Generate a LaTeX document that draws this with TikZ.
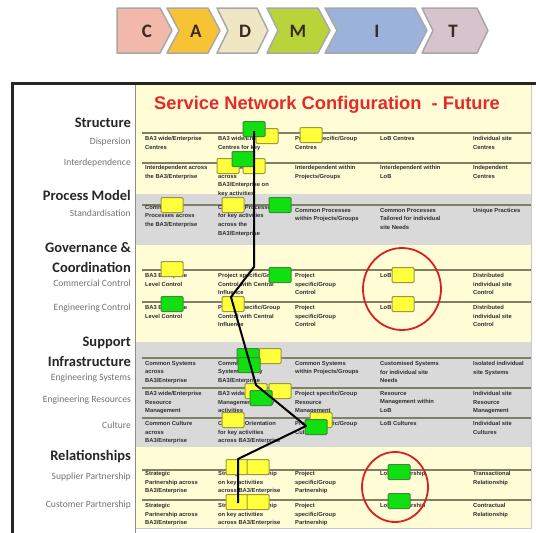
\documentclass[tikz,border=0pt]{standalone}
\usepackage{fontspec}
\setmainfont{Liberation Sans}
\newfontfamily\carl{Carlito}
\usetikzlibrary{shapes.geometric}
\definecolor{cC}{HTML}{F2B9AA}
\definecolor{cA}{HTML}{F8C235}
\definecolor{cD}{HTML}{EFE7C3}
\definecolor{cM}{HTML}{B8D43A}
\definecolor{cI}{HTML}{9BB2DB}
\definecolor{cT}{HTML}{D7C3CB}
\definecolor{chevgray}{HTML}{A8A8A8}
\definecolor{letterc}{HTML}{3B2A22}
\definecolor{yfill}{HTML}{FFFCD6}
\definecolor{grayband}{HTML}{D9D9D9}
\definecolor{linecol}{HTML}{7F7F62}
\definecolor{titlered}{HTML}{E52A2A}
\definecolor{ringred}{HTML}{D82020}
\definecolor{boxy}{HTML}{FFFF3C}
\definecolor{boxyb}{HTML}{9C9A3A}
\definecolor{boxg}{HTML}{10E010}
\definecolor{boxgb}{HTML}{3A8A3A}
\definecolor{subgray}{HTML}{747474}
\definecolor{celltext}{HTML}{2E2E2E}
\definecolor{edgegray}{HTML}{C8C8C8}
\tikzset{
  chev/.style={draw=chevgray, line width=1.5pt, line join=round},
  chevlbl/.style={font=\carl\bfseries\fontsize{19}{19}\selectfont, text=letterc, inner sep=0pt},
  ybox/.style={draw=boxyb, fill=boxy, line width=1pt, rounded corners=1.2pt, minimum width=22pt, minimum height=15pt, inner sep=0pt},
  gbox/.style={draw=boxgb, fill=boxg, line width=1pt, rounded corners=1.2pt, minimum width=22pt, minimum height=15pt, inner sep=0pt},
  cell/.style={font=\bfseries\fontsize{5.8}{8.7}\selectfont, text=celltext, anchor=north west, align=left, inner sep=0pt},
  mainlbl/.style={font=\carl\bfseries\fontsize{14.5}{15}\selectfont, text=black!85, anchor=east, inner sep=0pt},
  sublbl/.style={font=\carl\fontsize{9.6}{10}\selectfont, text=subgray, anchor=east, inner sep=0pt},
  rowline/.style={draw=linecol, line width=1.3pt},
  redring/.style={ellipse, draw=ringred, line width=1.8pt, inner sep=0pt},
  pathline/.style={draw=black, line width=2pt, line join=round},
}
\begin{document}
\begin{tikzpicture}[x=1pt,y=-1pt]
\useasboundingbox (0,0) rectangle (536,533);
\fill[white] (0,0) rectangle (536,533);
% chevron bar
\draw[chev, fill=cC] (117,8) -- (160,8) -- (172,30.5) -- (160,53) -- (117,53) -- cycle;
\draw[chev, fill=cA] (167,8) -- (208,8) -- (220,30.5) -- (208,53) -- (167,53) -- (179,30.5) -- cycle;
\draw[chev, fill=cD] (217,8) -- (257,8) -- (268,30.5) -- (257,53) -- (217,53) -- (228,30.5) -- cycle;
\draw[chev, fill=cM] (267,8) -- (318,8) -- (330,30.5) -- (318,53) -- (267,53) -- (278,30.5) -- cycle;
\draw[chev, fill=cI] (325,8) -- (415,8) -- (427,30.5) -- (415,53) -- (325,53) -- (337,30.5) -- cycle;
\draw[chev, fill=cT] (422,8) -- (477,8) -- (488,30.5) -- (477,53) -- (422,53) -- (433,30.5) -- cycle;
\node[chevlbl] (lC) at (147,31) {C};
\node[chevlbl] (lA) at (196,31) {A};
\node[chevlbl] (lD) at (245,31) {D};
\node[chevlbl] (lM) at (298,31) {M};
\node[chevlbl] (lI) at (377,31) {I};
\node[chevlbl] (lT) at (453,31) {T};
% table background
\fill[yfill] (135,83) rectangle (531,528);
\fill[grayband] (135,194) rectangle (531,245);
\fill[grayband] (135,342) rectangle (531,447);
\draw[edgegray, line width=1pt] (531,84) -- (531,528) -- (135,528);
\draw[edgegray!70!black, line width=0.8pt] (135,84) -- (135,533);
\draw[black!85, line width=3pt] (12,533) -- (12,83) -- (536,83);
% title
\node[font=\bfseries\fontsize{18.3}{19}\selectfont, text=titlered, inner sep=0pt] (title) at (327,105) {Service Network Configuration \ - Future};
% row lines
\foreach \yy in {133,163,205,270,302,358,388,418,470,500}
  \draw[rowline] (142,\yy) -- (531,\yy);
% left labels
\node[mainlbl] (hStr) at (131,123) {Structure};
\node[sublbl] (sDisp) at (131,142) {Dispersion};
\node[sublbl] (sInter) at (131,163) {Interdependence};
\node[mainlbl] (hPro) at (131,195) {Process Model};
\node[sublbl] (sStd) at (131,213) {Standardisation};
\node[mainlbl] (hGov) at (131,248) {Governance \&};
\node[mainlbl] (hCoo) at (131,267) {Coordination};
\node[sublbl] (sCom) at (131,283) {Commercial Control};
\node[sublbl] (sEng) at (131,308) {Engineering Control};
\node[mainlbl] (hSup) at (131,343) {Support};
\node[mainlbl] (hInf) at (131,362) {Infrastructure};
\node[sublbl] (sSys) at (131,378) {Engineering Systems};
\node[sublbl] (sRes) at (131,400) {Engineering Resources};
\node[sublbl] (sCul) at (131,425) {Culture};
\node[mainlbl] (hRel) at (131,457) {Relationships};
\node[sublbl] (sSupP) at (131,477) {Supplier Partnership};
\node[sublbl] (sCusP) at (131,505) {Customer Partnership};
% cell texts
% Dispersion
\node[cell] (d1) at (145,136) {BA3 wide/Enterprise\\Centres};
\node[cell] (d2) at (218,136) {BA3 wide/Enterprise\\Centres for key};
\node[cell] (d3) at (295,136) {Project specific/Group\\Centres};
\node[cell] (d4) at (380,136) {LoB Centres};
\node[cell] (d5) at (473,136) {Individual site\\Centres};
% Interdependence
\node[cell] (i1) at (145,165) {Interdependent across\\the BA3/Enterprise};
\node[cell] (i2) at (218,165) {Interdependent\\across\\BA3/Enterprise on\\key activities};
\node[cell] (i3) at (295,165) {Interdependent within\\Projects/Groups};
\node[cell] (i4) at (380,165) {Interdependent within\\LoB};
\node[cell] (i5) at (473,165) {Independent\\Centres};
% Standardisation
\node[cell] (s1) at (145,205) {Common\\Processes across\\the BA3/Enterprise};
\node[cell] (s2) at (218,205) {Common Processes\\for key activities\\across the\\BA3/Enterprise};
\node[cell] (s3) at (295,208) {Common Processes\\within Projects/Groups};
\node[cell] (s4) at (380,208) {Common Processes\\Tailored for individual\\site Needs};
\node[cell] (s5) at (473,208) {Unique Practices};
% Commercial control
\node[cell] (cc1) at (145,273) {BA3 Enterprise\\Level Control};
\node[cell] (cc2) at (218,273) {Project specific/Group\\Control with Central\\Influence};
\node[cell] (cc3) at (295,273) {Project\\specific/Group\\Control};
\node[cell] (cc4) at (380,273) {LoB};
\node[cell] (cc5) at (473,273) {Distributed\\individual site\\Control};
% Engineering control
\node[cell] (ec1) at (145,305) {BA3 Enterprise\\Level Control};
\node[cell] (ec2) at (218,305) {Project specific/Group\\Control with Central\\Influence};
\node[cell] (ec3) at (295,305) {Project\\specific/Group\\Control};
\node[cell] (ec4) at (380,305) {LoB};
\node[cell] (ec5) at (473,305) {Distributed\\individual site\\Control};
% Engineering systems
\node[cell] (es1) at (145,361) {Common Systems\\across\\BA3/Enterprise};
\node[cell] (es2) at (218,361) {Common\\Systems for key\\BA3/Enterprise};
\node[cell] (es3) at (295,361) {Common Systems\\within Projects/Groups};
\node[cell] (es4) at (380,361) {Customised Systems\\for individual site\\Needs};
\node[cell] (es5) at (473,361) {Isolated individual\\site Systems};
% Engineering resources
\node[cell] (er1) at (145,391) {BA3 wide/Enterprise\\Resource\\Management};
\node[cell] (er2) at (218,391) {BA3 wide/Enterprise\\Management for key\\activities};
\node[cell] (er3) at (295,391) {Project specific/Group\\Resource\\Management};
\node[cell] (er4) at (380,391) {Resource\\Management within\\LoB};
\node[cell] (er5) at (473,391) {Individual site\\Resource\\Management};
% Culture
\node[cell] (cu1) at (145,421) {Common Culture\\across\\BA3/Enterprise};
\node[cell] (cu2) at (218,421) {Common Orientation\\for key activities\\across BA3/Enterprise};
\node[cell] (cu3) at (295,421) {Project specific/Group\\Cultures};
\node[cell] (cu4) at (380,421) {LoB Cultures};
\node[cell] (cu5) at (473,421) {Individual site\\Cultures};
% Supplier
\node[cell] (sp1) at (145,471) {Strategic\\Partnership across\\BA3/Enterprise};
\node[cell] (sp2) at (218,471) {Strategic Partnership\\on key activities\\across BA3/Enterprise};
\node[cell] (sp3) at (295,471) {Project\\specific/Group\\Partnership};
\node[cell] (sp4) at (380,471) {LoB Partnership};
\node[cell] (sp5) at (473,471) {Transactional\\Relationship};
% Customer
\node[cell] (cp1) at (145,503) {Strategic\\Partnership across\\BA3/Enterprise};
\node[cell] (cp2) at (218,503) {Strategic Partnership\\on key activities\\across BA3/Enterprise};
\node[cell] (cp3) at (295,503) {Project\\specific/Group\\Partnership};
\node[cell] (cp4) at (380,503) {LoB Partnership};
\node[cell] (cp5) at (473,503) {Contractual\\Relationship};
% yellow boxes
\node[ybox] (y1) at (267,136) {};
\node[ybox] (y2) at (311,135) {};
\node[ybox] (y3) at (228,166) {};
\node[ybox] (y4) at (254,166) {};
\node[ybox] (y5) at (172,205) {};
\node[ybox] (y6) at (233,205) {};
\node[ybox] (y7) at (172,269) {};
\node[ybox] (y8) at (233,304) {};
\node[ybox] (y9) at (270,356) {};
\node[ybox] (y10) at (256,391) {};
\node[ybox] (y11) at (280,391) {};
\node[ybox] (y12) at (233,420) {};
\node[ybox] (y13) at (321,420) {};
\node[ybox] (y14) at (237,467) {};
\node[ybox] (y15) at (258,467) {};
\node[ybox] (y16) at (237,502) {};
\node[ybox] (y17) at (258,502) {};
\node[ybox] (y18) at (403,275) {};
\node[ybox] (y19) at (403,304) {};
% green boxes
\node[gbox] (g1) at (254,129) {};
\node[gbox] (g2) at (243,159) {};
\node[gbox] (g3) at (280,205) {};
\node[gbox] (g4) at (280,275) {};
\node[gbox] (g5) at (172,304) {};
\node[gbox] (g6) at (248,356) {};
\node[gbox] (g7) at (249,365) {};
\node[gbox] (g8) at (261,398) {};
\node[gbox] (g9) at (316,427) {};
\node[gbox] (g10) at (399,472) {};
\node[gbox] (g11) at (399,501) {};
% red rings
\node[redring, minimum width=78pt, minimum height=82pt] (ring1) at (402,289) {};
\node[redring, minimum width=66pt, minimum height=70pt] (ring2) at (395,487) {};
% path
\coordinate (p1) at (254,131);
\coordinate (p2) at (254,267);
\coordinate (p3) at (231,297);
\coordinate (p4) at (256,385);
\coordinate (p5) at (306,426);
\coordinate (p6) at (238,459);
\coordinate (p7) at (238,503);
\draw[pathline] (p1) -- (p2) -- (p3) -- (p4) -- (p5) -- (p6) -- (p7);
\end{tikzpicture}
\end{document}
